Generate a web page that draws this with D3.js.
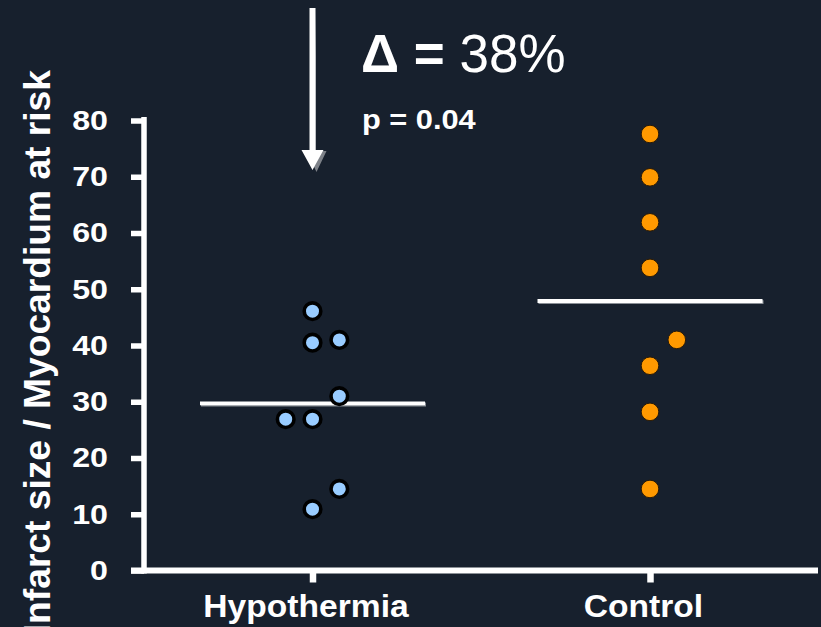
<!DOCTYPE html>
<html>
<head>
<meta charset="utf-8">
<script src="https://cdn.jsdelivr.net/npm/d3@7"></script>
<style>
  html, body { margin: 0; padding: 0; background: #17202d; }
  svg { display: block; font-family: "Liberation Sans", Arial, sans-serif; }
</style>
</head>
<body>
<svg id="chart" width="821" height="627"></svg>
<script>
// Infarct size as % of myocardium at risk, per animal
const categories = ["Hypothermia", "Control"];
const hypothermiaValues = [46.1, 40.5, 41.0, 31.0, 26.9, 26.9, 14.5, 10.9];
const hypothermiaSlots  = [0, 0, 1, 1, -1, 0, 1, 0];
const controlValues = [77.6, 69.9, 61.9, 53.8, 41.0, 36.4, 28.2, 14.5];
const controlSlots  = [0, 0, 0, 0, 1, 0, 0, 0];
const yTicks = [0, 10, 20, 30, 40, 50, 60, 70, 80];
const yTitle = "Infarct size / Myocardium at risk";
const deltaLabel = "38%";
const pLabel = "p = 0.04";

const svg = d3.select("#chart");

const x = d3.scalePoint().domain(categories).range([312.5, 650]);
const y = d3.scaleLinear().domain([0, 80]).range([570.5, 120.5]);
const slotW = 26.8;
const halfMean = 112.5;

const groups = [
  { name: "Hypothermia", values: hypothermiaValues, slots: hypothermiaSlots,
    fill: "#99ccff", stroke: "#000000", r: 8.3, sw: 3.6 },
  { name: "Control", values: controlValues, slots: controlSlots,
    fill: "#ff9900", stroke: "#2a1a05", r: 8.8, sw: 1 }
];

// y axis
const yAxis = svg.append("g")
  .attr("transform", "translate(144,0)")
  .call(d3.axisLeft(y).tickValues(yTicks).tickSize(13).tickSizeOuter(0));
yAxis.select(".domain").attr("stroke", "#ffffff").attr("stroke-width", 5.5)
  .attr("d", `M0,${y(80) - 3.5}V${y(0) + 3}`);
yAxis.selectAll(".tick line").attr("stroke", "#ffffff").attr("stroke-width", 5.5);
yAxis.selectAll(".tick text").attr("fill", "#ffffff")
  .attr("font-size", 28).attr("font-weight", "bold")
  .attr("x", 0).attr("transform", "translate(-36,0) scale(1.15,1)");

// x axis
const xAxis = svg.append("g")
  .attr("transform", `translate(0,${y(0)})`)
  .call(d3.axisBottom(x).tickSize(12).tickSizeOuter(0).tickPadding(14));
xAxis.select(".domain").attr("stroke", "#ffffff").attr("stroke-width", 6)
  .attr("d", "M131,0H818");
xAxis.selectAll(".tick line").attr("stroke", "#ffffff").attr("stroke-width", 6.5);
xAxis.selectAll(".tick text").attr("fill", "#ffffff")
  .attr("font-size", 32).attr("font-weight", "bold")
  .attr("dy", null).attr("y", 46.5)
  .attr("transform", "translate(-7,0) scale(1.05,1)");

// y axis title (runs past the bottom edge of the page)
svg.append("text")
  .attr("transform", "translate(50,70) rotate(-90)")
  .attr("text-anchor", "end")
  .attr("fill", "#ffffff")
  .attr("font-size", 37.2)
  .attr("font-weight", "bold")
  .text(yTitle);

// mean lines
groups.forEach(g => {
  const m = d3.mean(g.values);
  const cx = x(g.name);
  svg.append("line")
    .attr("x1", cx - halfMean + 1).attr("x2", cx + halfMean + 1)
    .attr("y1", y(m) + 1.2).attr("y2", y(m) + 1.2)
    .attr("stroke", "#8a8f96").attr("stroke-width", 3.8);
  svg.append("line")
    .attr("x1", cx - halfMean).attr("x2", cx + halfMean)
    .attr("y1", y(m)).attr("y2", y(m))
    .attr("stroke", "#ffffff").attr("stroke-width", 3.8);
});

// data points
groups.forEach(g => {
  svg.append("g").selectAll("circle")
    .data(g.values.map((v, i) => ({ v, s: g.slots[i] })))
    .join("circle")
    .attr("cx", d => x(g.name) + d.s * slotW)
    .attr("cy", d => y(d.v))
    .attr("r", g.r)
    .attr("fill", g.fill)
    .attr("stroke", g.stroke)
    .attr("stroke-width", g.sw);
});

// arrow annotation above hypothermia
const ax = x("Hypothermia");
const arrow = svg.append("g");
arrow.append("path")
  .attr("d", `M${ax + 1.5},8V150H${ax + 12}L${ax + 2},171L${ax - 8},150H${ax - 1.5}Z`)
  .attr("fill", "#7d8188").attr("transform", "translate(2,1)");
arrow.append("path")
  .attr("d", `M${ax + 3},8V150H${ax + 11}L${ax},170L${ax - 11},150H${ax - 3}V8Z`)
  .attr("fill", "#ffffff");

// delta and p-value labels
const dt = svg.append("text").attr("x", 361).attr("y", 72)
  .attr("fill", "#ffffff").attr("font-size", 53);
dt.append("tspan").attr("font-weight", "bold").text("\u0394 = ");
dt.append("tspan").text(deltaLabel);

svg.append("text")
  .attr("transform", "translate(362,129) scale(1.14,1)")
  .attr("fill", "#ffffff").attr("font-size", 27).attr("font-weight", "bold")
  .text(pLabel);
</script>
</body>
</html>
